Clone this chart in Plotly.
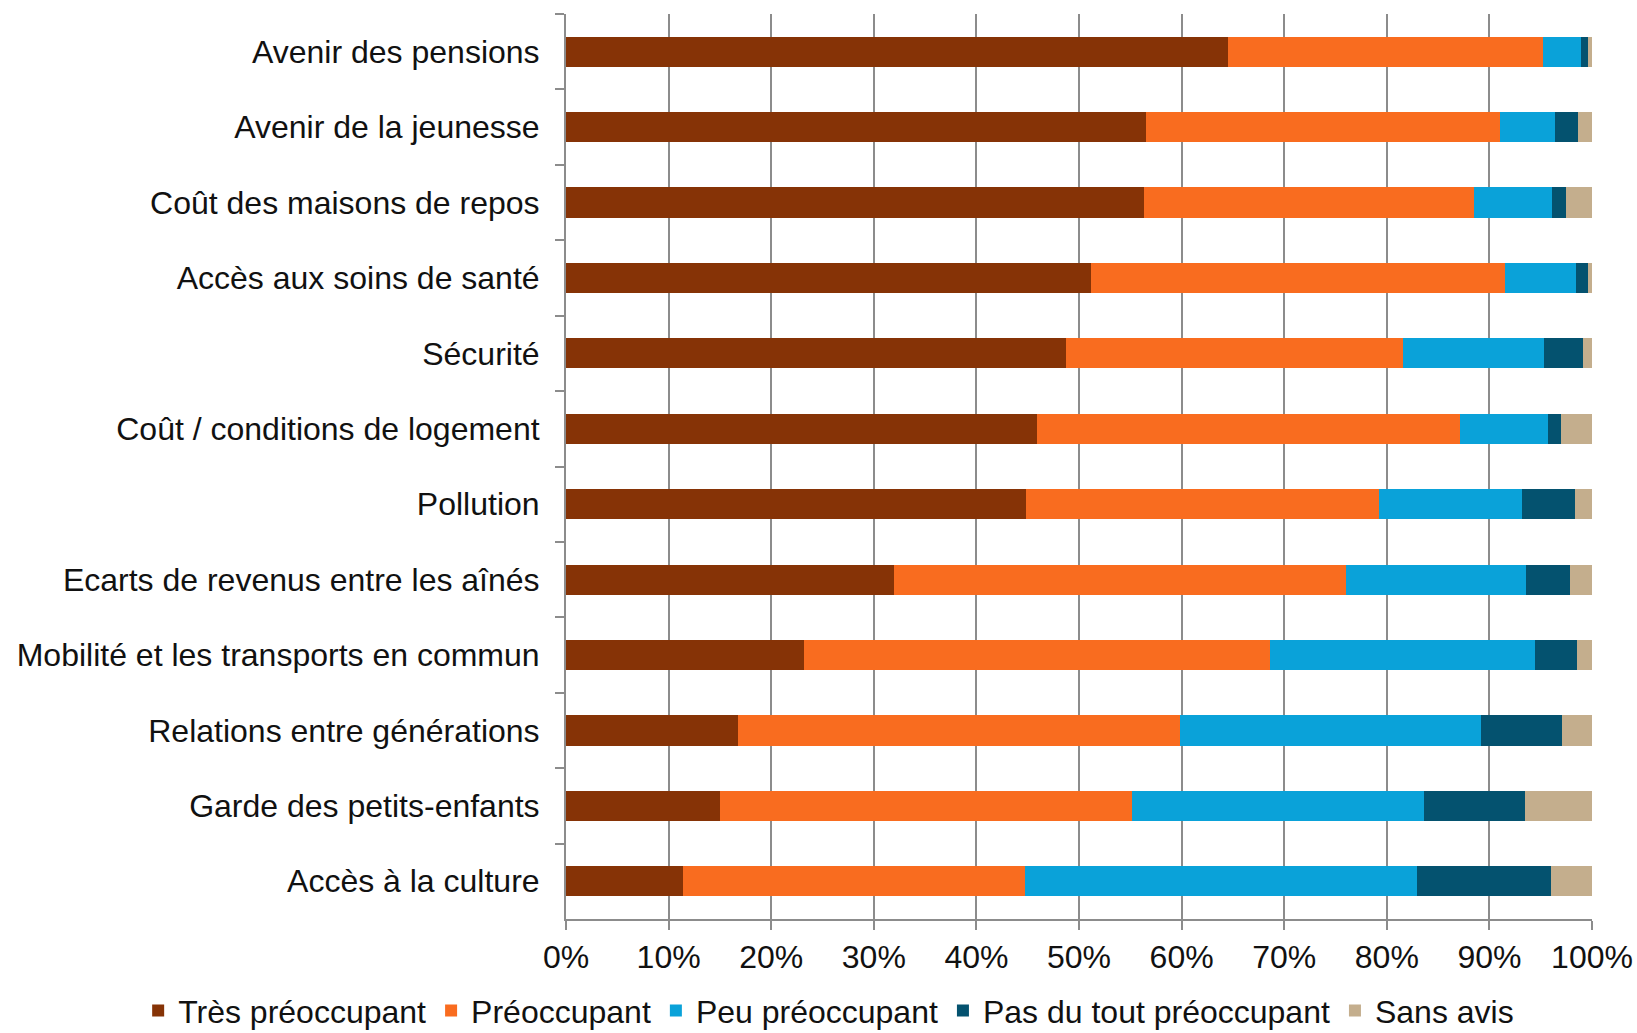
import plotly.graph_objects as go


# ── Data (% of respondents) ──────────────────────────────────────────────────
CATEGORIES = [
    "Avenir des pensions",
    "Avenir de la jeunesse",
    "Coût des maisons de repos",
    "Accès aux soins de santé",
    "Sécurité",
    "Coût / conditions de logement",
    "Pollution",
    "Ecarts de revenus entre les aînés",
    "Mobilité et les transports en commun",
    "Relations entre générations",
    "Garde des petits-enfants",
    "Accès à la culture",
]

TRES_PREOCCUPANT = [64.5, 56.5, 56.3, 51.2, 48.7, 45.9, 44.8, 32.0, 23.2, 16.8, 15.0, 11.4]
PREOCCUPANT      = [30.7, 34.5, 32.2, 40.3, 32.9, 41.2, 34.4, 44.0, 45.4, 43.0, 40.2, 33.3]
PEU_PREOCCUPANT  = [3.7, 5.4, 7.6, 6.9, 13.7, 8.6, 14.0, 17.6, 25.8, 29.4, 28.4, 38.2]
PAS_DU_TOUT      = [0.7, 2.2, 1.4, 1.2, 3.8, 1.3, 5.1, 4.3, 4.1, 7.9, 9.9, 13.1]
SANS_AVIS        = [0.4, 1.4, 2.5, 0.4, 0.9, 3.0, 1.7, 2.1, 1.5, 2.9, 6.5, 4.0]

SERIES_NAMES = ["Très préoccupant", "Préoccupant", "Peu préoccupant",
                "Pas du tout préoccupant", "Sans avis"]
X_TICKS = list(range(0, 101, 10))


# ── Style ────────────────────────────────────────────────────────────────────
COLORS = ["#863306", "#F96C1F", "#0AA2D9", "#04526F", "#C4AE8D"]
GRID   = "#8c8c8c"
TEXT   = "#111111"
FONT   = "Liberation Sans, Arial, sans-serif"


series = [TRES_PREOCCUPANT, PREOCCUPANT, PEU_PREOCCUPANT, PAS_DU_TOUT, SANS_AVIS]

fig = go.Figure()
for name, vals, color in zip(SERIES_NAMES, series, COLORS):
    fig.add_trace(
        go.Bar(
            y=CATEGORIES,
            x=vals,
            name=name,
            orientation="h",
            marker=dict(color=color, line=dict(width=0)),
        )
    )

fig.update_layout(
    barmode="stack",
    bargap=0.6,
    width=1637,
    height=1033,
    paper_bgcolor="white",
    plot_bgcolor="white",
    font=dict(family=FONT, size=32, color=TEXT),
    margin=dict(l=566, r=45, t=14, b=114, autoexpand=False),
    # legend sits left of / below the plot area so it may use the full width
    legend=dict(
        orientation="h",
        x=-0.417,
        xanchor="left",
        y=-0.071,
        yanchor="top",
        font=dict(size=32, color=TEXT),
        traceorder="normal",
        itemwidth=30,
    ),
    xaxis=dict(
        range=[0, 100],
        tickvals=X_TICKS,
        ticktext=[f"{v}%" for v in X_TICKS],
        showgrid=True,
        gridcolor=GRID,
        gridwidth=1.5,
        zeroline=False,
        showline=True,
        linecolor=GRID,
        linewidth=2,
        ticks="outside",
        ticklen=9,
        tickcolor=GRID,
        tickwidth=1.5,
    ),
    yaxis=dict(
        autorange="reversed",
        type="category",
        showgrid=False,
        zeroline=False,
        showline=True,
        linecolor=GRID,
        linewidth=2,
        ticks="outside",
        tickson="boundaries",
        ticklen=9,
        tickcolor=GRID,
        tickwidth=1.5,
        ticklabelstandoff=18,
    ),
)

# drop the browser's default body margin so the figure fills the window
fig.write_html(
    "out.html",
    config={"displayModeBar": False},
    post_script="document.body.style.margin='0';",
)
